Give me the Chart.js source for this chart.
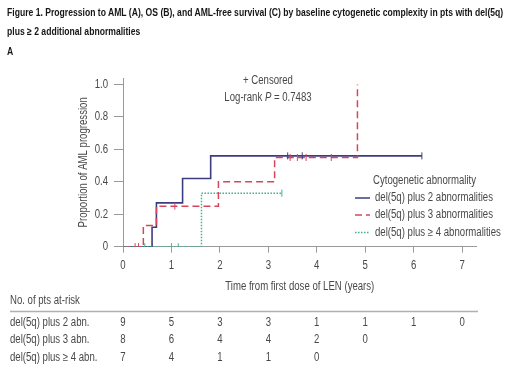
<!DOCTYPE html>
<html>
<head>
<meta charset="utf-8">
<script src="https://cdn.jsdelivr.net/npm/chart.js@4/dist/chart.umd.min.js"></script>
<style>
  html, body { margin: 0; padding: 0; background: #fff; }
  #wrap { position: relative; width: 520px; height: 376px; overflow: hidden; }
  #c { position: absolute; left: 0; top: 0; }
  .hd { position: absolute; left: 7px; font-family: "Liberation Sans", Arial, sans-serif; font-weight: bold; font-size: 10.6px; line-height: 12px; color: #161616; white-space: nowrap; transform-origin: 0 50%; }
</style>
</head>
<body>
<div id="wrap">
  <canvas id="c" width="520" height="376"></canvas>
  <div class="hd" id="h1" style="top:6px">Figure 1. Progression to AML (A), OS (B), and AML-free survival (C) by baseline cytogenetic complexity in pts with del(5q)</div>
  <div class="hd" id="h2" style="top:25px">plus ≥ 2 additional abnormalities</div>
  <div class="hd" id="h3" style="top:45px">A</div>
</div>
<script>
// ---- data ----
const seriesNames = ['del(5q) plus 2 abnormalities', 'del(5q) plus 3 abnormalities', 'del(5q) plus \u2265 4 abnormalities'];
const s2Times  = [0, 0.60, 0.69, 1.23, 1.81, 6.17];
const s2Values = [0, 0.12, 0.27, 0.42, 0.56, 0.56];
const s3Times  = [0, 0.42, 0.69, 1.97, 3.13, 4.84];
const s3Values = [0, 0.13, 0.25, 0.40, 0.55, 1.00];
const s4Times  = [0, 1.62, 3.28];
const s4Values = [0, 0.33, 0.33];
const s2Censored = [3.40, 3.70, 6.17];
const s3Censored = [0.25, 0.32, 1.07, 3.45, 3.60, 3.78, 4.30];
const s4Censored = [0.45, 1.00, 1.14, 3.28];
const xTicks = [0, 1, 2, 3, 4, 5, 6, 7];
const yTicks = [0, 0.2, 0.4, 0.6, 0.8, 1.0];
const riskLabels = ['del(5q) plus 2 abn.', 'del(5q) plus 3 abn.', 'del(5q) plus \u2265 4 abn.'];
const risk2 = [9, 5, 3, 3, 1, 1, 1, 0];
const risk3 = [8, 6, 4, 4, 2, 0];
const risk4 = [7, 4, 1, 1, 0];
const pValue = '0.7483';

// header width fit
(function () {
  const h1 = document.getElementById('h1');
  const k = 496 / h1.offsetWidth;
  ['h1', 'h2', 'h3'].forEach(id => { document.getElementById(id).style.transform = 'scaleX(' + k + ')'; });
})();

const colors = ['#3b3d80', '#d9445d', '#40b08c'];
const dashes = [[], [7, 4], [1.5, 1.5]];
const FONT = '"Liberation Sans", Arial, sans-serif';
const SX = 0.8; // condensed text look
const TXT = '#484848';

const canvas = document.getElementById('c');
const ctx0 = canvas.getContext('2d');
const origFill = ctx0.fillText.bind(ctx0);
ctx0.fillText = function (t, x, y, mw) {
  ctx0.save(); ctx0.translate(x, y); ctx0.scale(SX, 1); origFill(t, 0, 0); ctx0.restore();
};

function pts(t, v) { return t.map((x, i) => ({ x: x, y: v[i] })); }
function valAt(t, v, x) { let y = v[0]; for (let i = 0; i < t.length; i++) if (t[i] <= x) y = v[i]; return y; }
function cens(ct, t, v) { return ct.map(x => ({ x: x, y: valAt(t, v, x) })); }

const curves = [[s2Times, s2Values, s2Censored], [s3Times, s3Values, s3Censored], [s4Times, s4Values, s4Censored]];
const datasets = [];
curves.forEach((c, i) => {
  datasets.push({
    label: seriesNames[i], data: pts(c[0], c[1]), stepped: 'before',
    borderColor: colors[i], borderWidth: i === 0 ? 1.6 : 1.5, borderDash: dashes[i],
    pointRadius: 0, fill: false, order: 3 - i
  });
});
curves.forEach((c, i) => {
  datasets.push({
    label: seriesNames[i] + ' censored', type: 'scatter', data: cens(c[2], c[0], c[1]),
    showLine: false, pointStyle: 'line', rotation: 90, pointRadius: 3.5,
    borderColor: colors[i], pointBorderColor: colors[i], pointBorderWidth: 1, order: 0
  });
});

const extras = {
  id: 'extras',
  afterDraw(chart) {
    const ctx = chart.ctx, xs = chart.scales.x;
    ctx.save();
    ctx.fillStyle = TXT;
    ctx.textBaseline = 'middle';
    ctx.font = '12px ' + FONT;
    ctx.textAlign = 'center';
    ctx.fillText('+ Censored', 268, 81);
    const a = 'Log-rank ', b = 'P', c = ' = ' + pValue;
    ctx.font = '12px ' + FONT; const wa = ctx.measureText(a).width * SX, wc = ctx.measureText(c).width * SX;
    ctx.font = 'italic 12px ' + FONT; const wb = ctx.measureText(b).width * SX;
    let x0 = 268 - (wa + wb + wc) / 2;
    ctx.textAlign = 'left';
    ctx.font = '12px ' + FONT; ctx.fillText(a, x0, 98);
    ctx.font = 'italic 12px ' + FONT; ctx.fillText(b, x0 + wa, 98);
    ctx.font = '12px ' + FONT; ctx.fillText(c, x0 + wa + wb, 98);
    // legend
    ctx.fillText('Cytogenetic abnormality', 373, 181);
    const ly = [198, 215, 232.5];
    seriesNames.forEach((n, i) => {
      ctx.save();
      ctx.strokeStyle = colors[i]; ctx.lineWidth = 1.5; ctx.setLineDash(dashes[i]);
      ctx.beginPath(); ctx.moveTo(355, ly[i]); ctx.lineTo(370, ly[i]); ctx.stroke();
      ctx.restore();
      ctx.fillStyle = TXT;
      ctx.fillText(n, 375, ly[i]);
    });
    // at-risk table
    ctx.fillText('No. of pts at-risk', 10, 301);
    ctx.strokeStyle = '#b0b0b0'; ctx.lineWidth = 1.5;
    ctx.beginPath(); ctx.moveTo(10, 311.5); ctx.lineTo(478, 311.5); ctx.stroke();
    const rows = [risk2, risk3, risk4], ry = [322.5, 340, 357.5];
    rows.forEach((r, i) => {
      ctx.textAlign = 'left';
      ctx.fillText(riskLabels[i], 10, ry[i]);
      ctx.textAlign = 'center';
      r.forEach((v, j) => ctx.fillText(String(v), xs.getPixelForValue(xTicks[j]), ry[i]));
    });
    ctx.restore();
  }
};

new Chart(ctx0, {
  type: 'line',
  data: { datasets: datasets },
  options: {
    responsive: false, animation: false, devicePixelRatio: 1,
    layout: { padding: { top: 78, right: 43.4, left: 0, bottom: 0 } },
    plugins: { legend: { display: false }, tooltip: { enabled: false } },
    scales: {
      x: {
        type: 'linear', min: 0, max: 7.3,
        afterFit(s) { s.height = 376 - 246.7; },
        afterBuildTicks(s) { s.ticks = xTicks.map(v => ({ value: v })); },
        grid: { display: true, drawOnChartArea: false, drawTicks: true, tickLength: 6, color: '#9a9a9a' },
        border: { display: true, color: '#9a9a9a', width: 1 },
        ticks: { color: TXT, font: { family: FONT, size: 12 }, padding: 6, maxRotation: 0, autoSkip: false },
        title: { display: true, text: 'Time from first dose of LEN (years)', color: TXT, font: { family: FONT, size: 12 }, padding: { top: 0, bottom: 82 } }
      },
      y: {
        type: 'linear', min: 0, max: 1.04,
        afterFit(s) { s.width = 123; },
        afterBuildTicks(s) { s.ticks = yTicks.map(v => ({ value: v })); },
        grid: { display: true, drawOnChartArea: false, drawTicks: true, tickLength: 9, color: '#9a9a9a' },
        border: { display: true, color: '#9a9a9a', width: 1 },
        ticks: { color: TXT, font: { family: FONT, size: 12 }, padding: 6,
          callback: v => v === 0 ? '0' : v.toFixed(1) },
        title: { display: true, text: 'Proportion of AML progression', color: TXT, font: { family: FONT, size: 12 }, padding: { top: 76, bottom: 0 } }
      }
    }
  },
  plugins: [extras]
});
</script>
</body>
</html>
